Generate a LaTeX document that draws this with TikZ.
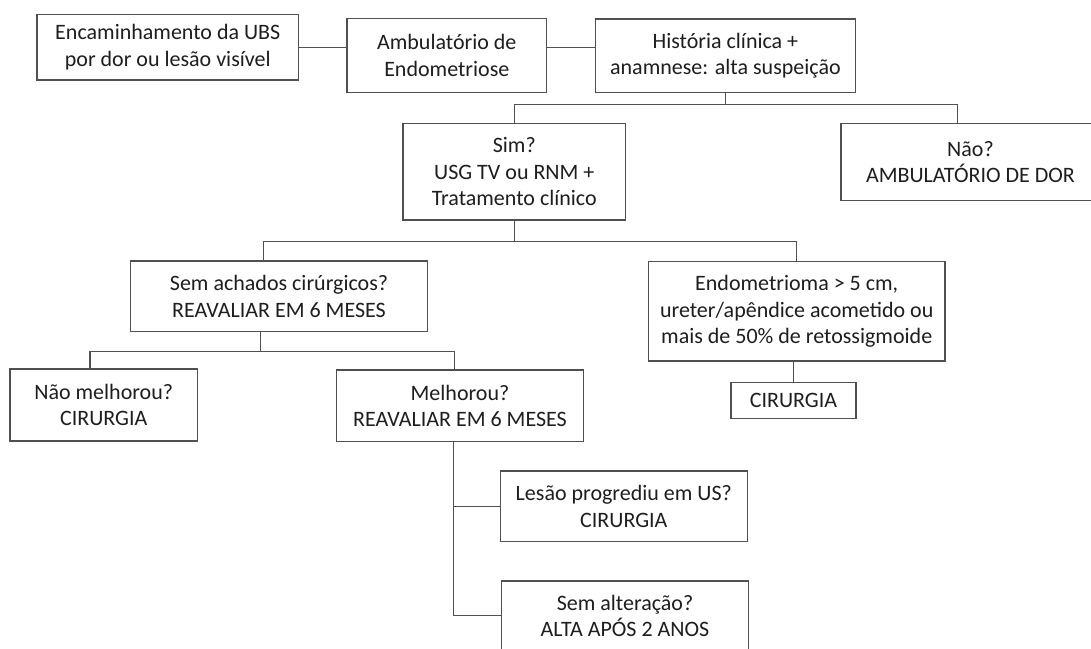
\documentclass[tikz,border=0pt]{standalone}
\usepackage{fontspec}
\setmainfont{Carlito}
\definecolor{linegray}{RGB}{80,80,80}
\definecolor{textcol}{RGB}{30,30,30}
\begin{document}
\begin{tikzpicture}[x=1pt,y=-1pt,
  box/.style={draw=linegray, line width=1.3pt, align=center, inner sep=0pt,
    text=textcol, font=\fontsize{22}{26.5}\selectfont},
  link/.style={draw=linegray, line width=1.3pt}]
\useasboundingbox (0,0) rectangle (1091,648);
\fill[white] (0,0) rectangle (1091,648);
\clip (0,0) rectangle (1091,648);

% boxes
\node[box, minimum width=261.4pt, minimum height=65.7pt] (A) at (167.8,47.2)
  {Encaminhamento da UBS\\por dor ou lesão visível};
\node[box, minimum width=199.4pt, minimum height=74pt] (B) at (446.8,55.3)
  {Ambulatório de\\Endometriose};
\node[box, minimum width=260pt, minimum height=73.7pt] (C) at (725.4,55.9)
  {História clínica +\\anamnese: alta suspeição};
\node[box, minimum width=222.7pt, minimum height=96.7pt] (D) at (514.3,171.7)
  {Sim?\\USG TV ou RNM +\\Tratamento clínico};
\node[box, minimum width=259pt, minimum height=77.4pt] (E) at (970.5,162)
  {Não?\\AMBULATÓRIO DE DOR};
\node[box, minimum width=297pt, minimum height=70.7pt] (F) at (279,296.4)
  {Sem achados cirúrgicos?\\REAVALIAR EM 6 MESES};
\node[box, minimum width=296.7pt, minimum height=99.3pt] (I) at (796.7,311.4)
  {Endometrioma > 5 cm,\\ureter/apêndice acometido ou\\mais de 50\% de retossigmoide};
\node[box, minimum width=125pt, minimum height=36pt] (J) at (793.5,400.3)
  {CIRURGIA};
\node[box, minimum width=187.3pt, minimum height=72pt] (G) at (103.7,405)
  {Não melhorou?\\CIRURGIA};
\node[box, minimum width=246.6pt, minimum height=71.7pt] (H) at (460,405.9)
  {Melhorou?\\REAVALIAR EM 6 MESES};
\node[box, minimum width=247pt, minimum height=70.7pt] (K) at (623.8,506.3)
  {Lesão progrediu em US?\\CIRURGIA};
\node[box, minimum width=246.6pt, minimum height=69.6pt] (L) at (625,615.8)
  {Sem alteração?\\ALTA APÓS 2 ANOS};

% branch levels and attachment points
\coordinate (yC) at (0,104.3);
\coordinate (yD) at (0,241.7);
\coordinate (yF) at (0,351.7);
\coordinate (eIn) at ([xshift=-13.2pt]E.north);
\coordinate (fIn) at ([xshift=-15.7pt]F.north);
\coordinate (fOut) at ([xshift=-18.8pt]F.south);
\coordinate (gIn) at ([xshift=-13.7pt]G.north);
\coordinate (hIn) at ([xshift=-5.7pt]H.north);
\coordinate (hOut) at ([xshift=-6.7pt]H.south);

% connectors
\draw[link] (A.east) -- (A.east -| B.west);
\draw[link] (B.east |- A.east) -- (C.west |- A.east);
\draw[link] (C.south) -- (C.south |- yC);
\draw[link] (D.north) |- (eIn |- yC) -- (eIn);
\draw[link] (D.south) -- (D.south |- yD);
\draw[link] (fIn) |- (I.north |- yD) -- (I.north);
\draw[link] (fOut) -- (fOut |- yF);
\draw[link] (gIn) |- (hIn |- yF) -- (hIn);
\draw[link] (J.north) -- (J.north |- I.south);
\draw[link] (hOut) |- (K.west);
\draw[link] (hOut) |- (L.west);
\end{tikzpicture}
\end{document}
